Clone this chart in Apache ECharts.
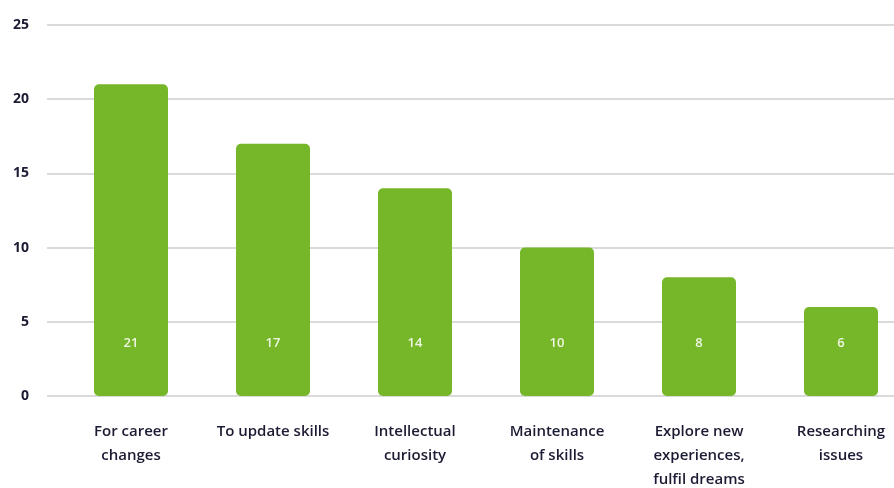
<!DOCTYPE html>
<html><head><meta charset="utf-8">
<script src="https://cdn.jsdelivr.net/npm/echarts@6/dist/echarts.min.js"></script>
<style>html,body{margin:0;padding:0;background:#fff}#c{width:894px;height:488px}</style>
</head><body><div id="c"></div>
<script>
const categories = ["For career\nchanges","To update skills","Intellectual\ncuriosity","Maintenance\nof skills","Explore new\nexperiences,\nfulfil dreams","Researching\nissues"];
const values = [21,17,14,10,8,6];
const yTicks = [0,5,10,15,20,25];

const chart = echarts.init(document.getElementById('c'));
const font = '"Open Sans", "Noto Sans", sans-serif';
chart.setOption({
  animation:false,
  grid:[
    {left:47,right:0,top:25,bottom:92,outerBoundsMode:'none',containLabel:false},
    {left:60,width:852,top:25,bottom:92,outerBoundsMode:'none',containLabel:false}
  ],
  xAxis:[
    {gridIndex:0,type:'category',data:categories,show:false},
    {gridIndex:1,type:'category',data:categories,
     axisLine:{show:false},axisTick:{show:false},
     axisLabel:{interval:0,margin:24,fontFamily:font,fontSize:15,fontWeight:600,color:'#1b1b33',lineHeight:24}}
  ],
  yAxis:[
    {gridIndex:0,type:'value',min:yTicks[0],max:yTicks[yTicks.length-1],interval:5,
     axisLine:{show:false},axisTick:{show:false},
     splitLine:{lineStyle:{color:'#dadada',width:2}},
     axisLabel:{margin:18,fontFamily:font,fontSize:14,fontWeight:'bold',color:'#1b1b33'}},
    {gridIndex:1,type:'value',min:0,max:25,interval:5,show:false,splitLine:{show:false}}
  ],
  series:[{
    type:'bar',xAxisIndex:1,yAxisIndex:1,data:values,barWidth:74,
    itemStyle:{color:'#76b72a',borderRadius:5},
    label:{show:true,position:'insideBottom',distance:46,color:'#eef6e2',fontFamily:font,fontSize:13,fontWeight:600}
  }]
});
</script></body></html>
